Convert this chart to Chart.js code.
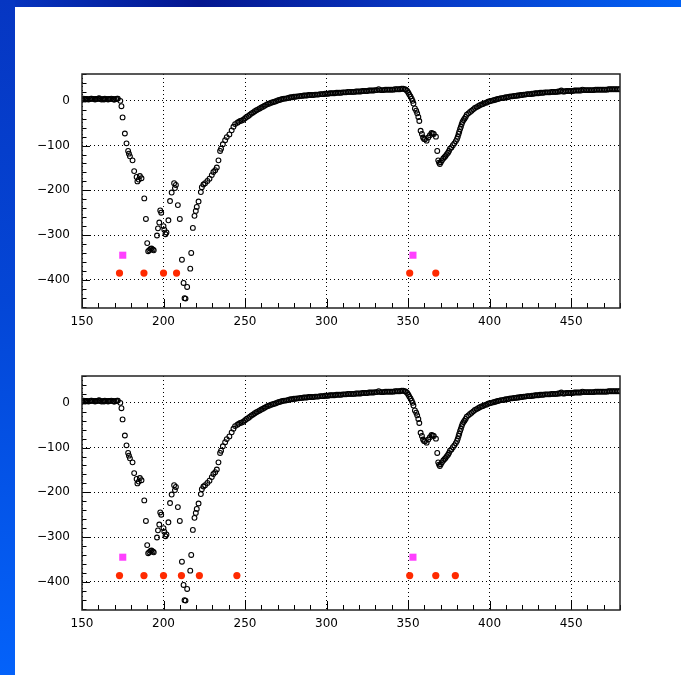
<!DOCTYPE html>
<html>
<head>
<meta charset="utf-8">
<script src="https://cdn.jsdelivr.net/npm/chart.js@4.4.1/dist/chart.umd.min.js"></script>
<style>
  html, body { margin:0; padding:0; }
  body { width:681px; height:675px; overflow:hidden; position:relative; background:#fff; }
  #topbar { position:absolute; left:0; top:0; width:681px; height:7px;
    background: linear-gradient(to right, #0636c2 0px, #04168f 200px, #0838c4 420px, #0262f5 681px); }
  #leftbar { position:absolute; left:0; top:0; width:15px; height:675px;
    background: linear-gradient(to bottom, #0636c2 0px, #0446d6 300px, #0462fa 675px); }
  canvas { position:absolute; left:0; }
</style>
</head>
<body>
<div id="topbar"></div>
<div id="leftbar"></div>
<canvas id="c1" width="681" height="300" style="top:40px"></canvas>
<canvas id="c2" width="681" height="300" style="top:342px"></canvas>
<script>
// ---- axis ticks ----
const xTickVals = [150, 200, 250, 300, 350, 400, 450];
const yTickVals = [0, -100, -200, -300, -400];
const xRange = [150, 480];
const yRange = [-463, 60];

// ---- measured series (black open markers), same in both panels: [x, y] ----
const blackXY = [
 [150,4],[150.5,3],[151,5],[152,3],[152.5,4],[153,4],[154,3],[155,4],[155.5,5],[156,5],[157,4],[158,3],[158.5,4],[159,4],[160,5],[160.5,6],[161,4],
 [162,3],[163,4],[163.5,3],[164,5],[165,4],[166,3],[166.5,4],[167,4],[168,5],[169,4],[169.5,3],[170,3],[171,4],[171.5,5],[172,5],
 [173.5,0],[174.2,-12],[174.9,-37],[176.3,-73],[177.3,-95],[178.3,-112],[178.8,-118],[179.4,-124],[181,-133],[182,-157],[183.5,-170],
 [184,-180],[184.8,-176],[185.5,-168],[186.5,-173],[188.2,-218],[189.2,-264],[190,-318],[190.6,-336],[191.3,-334],[192,-331],[192.6,-330],
 [193.4,-332],[194,-334],[196,-301],[196.6,-285],[197.4,-272],[198,-245],[198.6,-250],[200,-280],[200.5,-288],[201.2,-298],[201.8,-294],
 [203,-267],[204,-224],[205,-205],[206.5,-184],[207,-195],[207.6,-188],[208.8,-233],[210,-264],[211.3,-355],[212.3,-407],[212.9,-441],
 [213.5,-442],[214.5,-416],[216.4,-375],[217,-340],[218,-284],[219,-257],[219.8,-246],[220.4,-237],[221.5,-225],[222.9,-204],[223.5,-193],
 [224.5,-187],[225.5,-184],[226.9,-179],[228.2,-174],[229.6,-166],[230.6,-159],[231.7,-155],[232.7,-149],[233.7,-133],[234.7,-112],
 [235.3,-107],[236.4,-97],[237.8,-88],[238.8,-81],[240.4,-75],[241.8,-66],[242.9,-58],[243.9,-52],[245.3,-49],[246,-47],[247,-45],[248,-44],
 [249,-42],[250,-39],[251,-36],[252,-34],[253,-31],[254,-28],[255,-26],[256,-23],[257,-21],[258,-19],[259,-17],[260,-15],[261,-13],[262,-11],
 [263,-9],[264,-7],[265,-6],[266,-4],[267,-3],[268,-2],[269,-1],[270,1],[271,2],[272,3],[273,4],[274,5],[275,5],[276,6],[277,7],[278,8],
 [279,8],[280,9],[281,9],[282,10],[283,10],[284,11],[285,11],[286,12],[287,12],[288,12],[289,13],[290,13],[291,13],[292,13],[293,14],
 [294,14],[295,14],[296,15],[297,15],[298,15],[299,16],[300,16],[301,16],[302,17],[303,17],[304,17],[305,17],[306,18],[307,18],[308,18],
 [309,18],[310,19],[311,19],[312,19],[313,20],[314,20],[315,20],[316,20],[317,20],[318,21],[319,21],[320,21],[321,21],[322,22],[323,22],
 [324,22],[325,22],[326,23],[327,23],[328,23],[329,23],[330,24],[331,24],[332,26],[333,24],[334,24],[335,24],[336,25],[337,25],[338,25],
 [339,25],[340,25],[341,25],[342,26],[343,26],[344,26],[345,26],[346,27],[347,27],
 [348,26],[348.7,25],[349.5,22],[350.2,18],[350.8,14],[351.5,10],[352.2,5],[352.8,0],[353.3,-6],[354.2,-17],[355,-22],[355.6,-28],[356.3,-36],
 [356.9,-45],[357.7,-67],[358.5,-74],[359.2,-82],[359.8,-85],[360.4,-86],[361.4,-89],[362.4,-82],[363.4,-77],[364.4,-72],[365.1,-73],
 [365.8,-74],[367.1,-80],[367.9,-112],[368.5,-133],[369,-138],[369.5,-141],[370.1,-137],[370.8,-133],[371.6,-129],[372.3,-126],[373,-123],
 [373.8,-119],[374.5,-116],[375.1,-112],[375.7,-107],[376.6,-104],[377.5,-99],[378.4,-95],[379.3,-90],[380,-85],[380.5,-80],[381,-74],
 [381.4,-69],[381.9,-63],[382.4,-58],[382.9,-52],[383.4,-47],[384,-43],[384.6,-40],[385.3,-36],[386,-31],[387,-28],[388,-25],[389,-22],
 [390,-19],[391,-16],[392,-14],[393,-12],[394,-10],[395,-8],[396,-7],[397,-5],[398,-4],[399,-2],[400,-1],[401,0],[402,1],[403,2],[404,3],
 [405,4],[406,5],[407,6],[408,6],[409,7],[410,8],[411,8],[412,9],[413,10],[414,10],[415,11],[416,11],[417,12],[418,12],[419,13],[420,13],
 [421,14],[422,14],[423,15],[424,15],[425,15],[426,16],[427,16],[428,17],[429,17],[430,17],[431,18],[432,18],[433,18],[434,19],[435,19],
 [436,19],[437,19],[438,20],[439,20],[440,20],[441,20],[442,21],[443,21],[444,23],[445,21],[446,21],[447,22],[448,22],[449,22],[450,22],
 [451,22],[452,23],[453,23],[454,23],[455,23],[456,23],[457,25],[458,24],[459,24],[460,24],[461,24],[462,24],[463,24],[464,24],[465,25],
 [466,25],[467,25],[468,25],[469,25],[470,25],[471,25],[472,25],[473,26],[474,26],[475,26],[476,26],[477,26],[478,26],[479,26],[480,26]
];

// ---- reference markers ----
const topRedX = [173, 188, 200, 208, 351, 367];
const topRedY = [-385, -385, -385, -385, -385, -385];
const botRedX = [173, 188, 200, 211, 222, 245, 351, 367, 379];
const botRedY = [-386, -386, -386, -386, -386, -386, -386, -386, -386];
const magX = [175, 353];
const magY = [-345, -345];

const pts = (xs, ys) => xs.map((v, i) => ({ x: v, y: ys[i] }));
const fmt = v => (v < 0 ? '\u2212' + Math.abs(v) : String(v));

const frameTicks = {
  id: 'frameTicks',
  afterDraw(chart) {
    const { ctx, chartArea: { left, right, top, bottom }, scales: { x, y } } = chart;
    ctx.save();
    ctx.strokeStyle = '#000';
    ctx.lineWidth = 1;
    ctx.beginPath();
    for (let v = xRange[0]; v <= xRange[1]; v += 10) {
      const px = Math.round(x.getPixelForValue(v)) + 0.5;
      const len = (v % 50 === 0) ? 9 : 5;
      ctx.moveTo(px, bottom); ctx.lineTo(px, bottom - len);
    }
    for (let v = -460; v <= yRange[1]; v += 20) {
      const py = Math.round(y.getPixelForValue(v)) + 0.5;
      const len = (v % 100 === 0) ? 8 : 4.5;
      ctx.moveTo(left, py); ctx.lineTo(left + len, py);
    }
    ctx.stroke();
    ctx.lineWidth = 1.5;
    ctx.strokeStyle = '#222';
    ctx.strokeRect(left, top, right - left, bottom - top);
    ctx.restore();
  }
};

function makeChart(id, redX, redY) {
  new Chart(document.getElementById(id), {
    type: 'scatter',
    data: {
      datasets: [
        { data: pts(redX, redY), pointStyle: 'circle', pointRadius: 3.6, backgroundColor: '#ff2a00', borderColor: '#ff2a00', borderWidth: 0 },
        { data: pts(magX, magY), pointStyle: 'rect', pointRadius: 5, backgroundColor: '#ff40ff', borderColor: '#ff40ff', borderWidth: 0 },
        { data: blackXY.map(p => ({ x: p[0], y: p[1] })), pointStyle: 'circle', pointRadius: 2.4, backgroundColor: 'rgba(0,0,0,0)', borderColor: '#000', borderWidth: 1.1 }
      ]
    },
    options: {
      responsive: false,
      animation: false,
      events: [],
      layout: { padding: { top: 34, right: 61, left: 0, bottom: 0 } },
      plugins: { legend: { display: false }, tooltip: { enabled: false } },
      scales: {
        x: {
          type: 'linear', min: xRange[0], max: xRange[1],
          afterBuildTicks: s => { s.ticks = xTickVals.map(v => ({ value: v })); },
          afterFit: s => { s.height = 32; },
          grid: { color: '#000', lineWidth: 1, drawTicks: false },
          border: { display: false, dash: [1, 3] },
          ticks: { padding: 7, color: '#000', font: { family: 'DejaVu Sans', size: 12 }, maxRotation: 0, autoSkip: false, callback: v => fmt(v) }
        },
        y: {
          type: 'linear', min: yRange[0], max: yRange[1],
          afterBuildTicks: s => { s.ticks = yTickVals.map(v => ({ value: v })); },
          afterFit: s => { s.width = 82; },
          grid: { color: '#000', lineWidth: 1, drawTicks: false },
          border: { display: false, dash: [1, 3] },
          ticks: { padding: 12, color: '#000', font: { family: 'DejaVu Sans', size: 12 }, autoSkip: false, callback: v => fmt(v) }
        }
      }
    },
    plugins: [frameTicks]
  });
}

makeChart('c1', topRedX, topRedY);
makeChart('c2', botRedX, botRedY);
</script>
</body>
</html>
